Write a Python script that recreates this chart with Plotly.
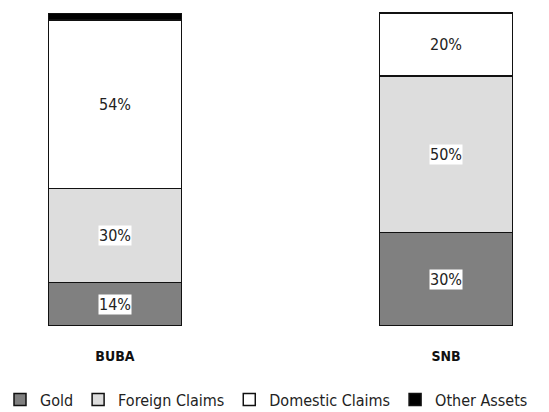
import plotly.graph_objects as go

banks = ["BUBA", "SNB"]
series_names = ["Gold", "Foreign Claims", "Domestic Claims", "Other Assets"]
gold = [14, 30]
foreign_claims = [30, 50]
domestic_claims = [54, 20]
other_assets = [2, 0.5]
show_labels = [True, True, True, False]

colors = ["#808080", "#dddddd", "#ffffff", "#000000"]
series = [gold, foreign_claims, domestic_claims, other_assets]

FONT = "DejaVu Sans Condensed, Liberation Sans Narrow, sans-serif"

fig = go.Figure()
for name, vals, col in zip(series_names, series, colors):
    fig.add_trace(go.Bar(
        x=banks, y=vals, name=name, width=0.402,
        marker=dict(color=col, line=dict(color="#111111", width=1.5)),
    ))

annotations = []
base = [0.0] * len(banks)
for vals, lab in zip(series, show_labels):
    for i, v in enumerate(vals):
        if lab:
            annotations.append(dict(
                x=banks[i], y=base[i] + v / 2, text=f"{v:.0f}%",
                showarrow=False, bgcolor="white", borderpad=0,
                font=dict(family=FONT, size=16, color="#222222"),
            ))
        base[i] += v

totals = base
fig.update_layout(
    barmode="stack",
    width=549, height=412,
    margin=dict(l=0, r=0, t=12, b=86, autoexpand=False),
    plot_bgcolor="white", paper_bgcolor="white",
    font=dict(family=FONT, size=14, color="#222222"),
    xaxis=dict(type="category", range=[-0.347, 1.311], showgrid=False,
               showline=False, ticks="", ticklabelstandoff=20,
               tickfont=dict(family="DejaVu Sans Condensed, sans-serif", size=14, color="#111111", weight="bold")),
    yaxis=dict(range=[0, max(totals)], visible=False),
    legend=dict(orientation="h", x=0, xanchor="left", y=-0.18, yanchor="top",
                traceorder="normal",
                font=dict(family=FONT, size=16, color="#222222"),
                itemwidth=30, tracegroupgap=0),
    annotations=annotations,
    showlegend=True,
)
fig.write_html("out.html", config={"displayModeBar": False},
               post_script="document.body.style.margin='0';")
